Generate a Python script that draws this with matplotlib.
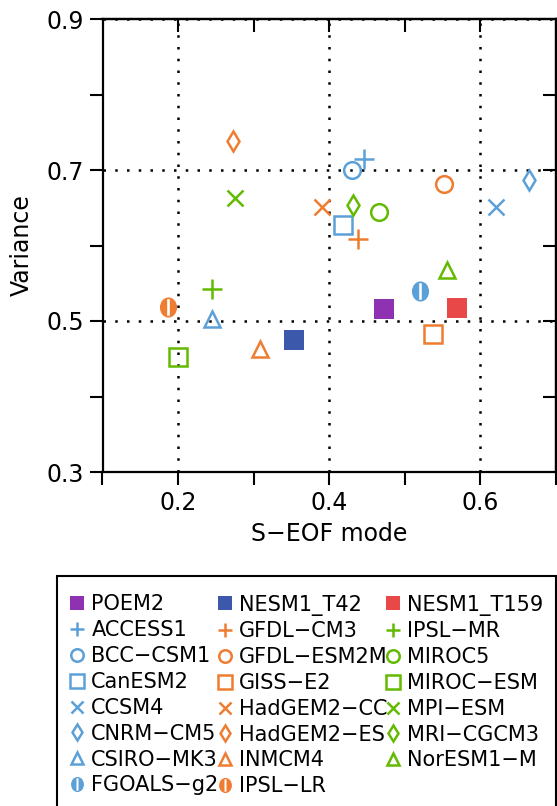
import matplotlib

matplotlib.use("Agg")
import matplotlib.pyplot as plt
import numpy as np
from matplotlib.patches import Rectangle
from matplotlib.path import Path
from matplotlib.ticker import MultipleLocator


# models listed in legend order (column by column)
models = [
    "POEM2", "ACCESS1", "BCC−CSM1", "CanESM2", "CCSM4", "CNRM−CM5", "CSIRO−MK3", "FGOALS−g2",
    "NESM1_T42", "GFDL−CM3", "GFDL−ESM2M", "GISS−E2", "HadGEM2−CC", "HadGEM2−ES", "INMCM4", "IPSL−LR",
    "NESM1_T159", "IPSL−MR", "MIROC5", "MIROC−ESM", "MPI−ESM", "MRI−CGCM3", "NorESM1−M",
]
seof_mode = [
    0.473, 0.446, 0.430, 0.418, 0.621, 0.665, 0.245, 0.521,
    0.354, 0.439, 0.552, 0.538, 0.391, 0.273, 0.308, 0.187,
    0.569, 0.245, 0.466, 0.200, 0.276, 0.432, 0.556,
]
variance = [
    0.516, 0.714, 0.700, 0.627, 0.651, 0.687, 0.502, 0.540,
    0.475, 0.608, 0.682, 0.483, 0.651, 0.739, 0.463, 0.518,
    0.517, 0.542, 0.644, 0.452, 0.663, 0.654, 0.568,
]

BLUE = "#5CA0D8"
ORANGE = "#EE7D31"
GREEN = "#63BA00"
FIRST_ROW_COLORS = ["#8E32B2", "#3C58AA", "#E84848"]
COLUMN_COLORS = [BLUE, ORANGE, GREEN]


def half_circle_marker():
    # filled ellipse with a white vertical slot (FGOALS / IPSL symbol)
    circle = Path.unit_circle()
    outer = circle.vertices * np.array([0.85, 1.0])
    hole = np.array([[-0.13, -0.82], [-0.13, 0.82], [0.13, 0.82], [0.13, -0.82], [-0.13, -0.82]])
    hole_codes = [Path.MOVETO, Path.LINETO, Path.LINETO, Path.LINETO, Path.CLOSEPOLY]
    verts = np.concatenate([outer, hole])
    codes = np.concatenate([circle.codes, hole_codes])
    return Path(verts, codes)


# one style per legend row: (marker, size, filled)
ROW_STYLES = [
    ("s", 14, True),
    ("+", 14, False),
    ("o", 12, False),
    ("s", 12.5, False),
    ("x", 11, False),
    ("d", 10.5, False),
    ("^", 11.5, False),
    (half_circle_marker(), 14.5, True),
]


def style_for(index):
    column = index // 8 if index < 16 else 2
    row = index - column * 8
    marker, size, filled = ROW_STYLES[row]
    color = FIRST_ROW_COLORS[column] if row == 0 else COLUMN_COLORS[column]
    return marker, size, filled, color


def main():
    fig = plt.figure(figsize=(5.57, 8.06), dpi=100)
    ax = fig.add_axes([102.5 / 557, 1 - 472 / 806, 453 / 557, 453 / 806])

    handles = []
    for i, name in enumerate(models):
        marker, size, filled, color = style_for(i)
        if filled:
            (line,) = ax.plot(seof_mode[i], variance[i], linestyle="none", marker=marker,
                              markersize=size, color=color, markeredgewidth=0,
                              label=name, zorder=3)
        else:
            (line,) = ax.plot(seof_mode[i], variance[i], linestyle="none", marker=marker,
                              markersize=size, markerfacecolor="none", markeredgecolor=color,
                              markeredgewidth=1.8, label=name, zorder=3)
        handles.append(line)

    ax.set_xlim(0.1, 0.7)
    ax.set_ylim(0.3, 0.9)
    ax.set_xticks([0.2, 0.4, 0.6])
    ax.xaxis.set_minor_locator(MultipleLocator(0.1))
    ax.set_yticks([0.3, 0.5, 0.7, 0.9])
    ax.yaxis.set_minor_locator(MultipleLocator(0.1))

    ax.grid(True, which="major", color="black", linewidth=1.8, linestyle=(0, (1, 3.7)))
    ax.set_axisbelow(True)

    for spine in ax.spines.values():
        spine.set_linewidth(1.6)
    ax.tick_params(which="both", direction="out", length=9.4, width=1.5,
                   top=False, right=False, labelsize=17, pad=4)

    # top and right ticks point inward
    top = ax.secondary_xaxis("top")
    top.set_xticks([0.2, 0.3, 0.4, 0.5, 0.6])
    top.tick_params(direction="in", length=9.4, width=1.5, labeltop=False)
    right = ax.secondary_yaxis("right")
    right.set_yticks([0.4, 0.5, 0.6, 0.7, 0.8])
    right.tick_params(direction="in", length=9.4, width=1.5, labelright=False)
    top.spines["top"].set_linewidth(1.6)
    right.spines["right"].set_linewidth(1.6)

    ax.set_xlabel("S−EOF mode", fontsize=17, labelpad=5)
    ax.set_ylabel("Variance", fontsize=17, labelpad=9)

    fig.legend(
        handles=handles,
        labels=models,
        ncol=3,
        loc="upper left",
        bbox_to_anchor=(57 / 557, 1 - 582 / 806, 499 / 557, 0),
        mode="expand",
        fontsize=15,
        markerscale=0.75,
        handlelength=0.75,
        handletextpad=0.3,
        columnspacing=0.1,
        labelspacing=0.28,
        borderpad=0.6,
        borderaxespad=0,
        frameon=False,
    )
    # legend box runs off the bottom of the figure, as in the original
    box = Rectangle((57 / 557, -0.05), 499 / 557, 0.05 + 1 - 576 / 806,
                    transform=fig.transFigure, fill=False, edgecolor="black",
                    linewidth=1.5)
    fig.patches.append(box)

    fig.savefig("out.png", dpi=100)
    plt.close(fig)


if __name__ == "__main__":
    main()
